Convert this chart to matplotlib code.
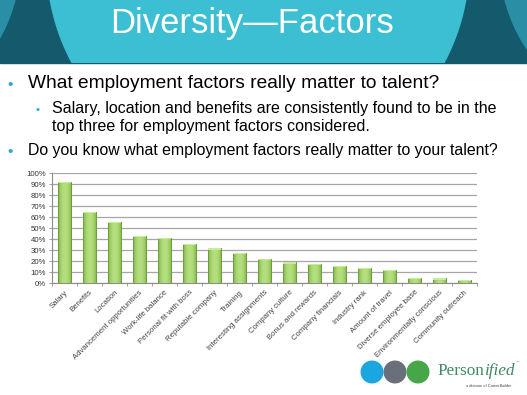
import numpy as np
import matplotlib
matplotlib.use("Agg")
import matplotlib.pyplot as plt
from matplotlib.patches import Rectangle, Circle
from matplotlib.ticker import PercentFormatter
from matplotlib.colors import LinearSegmentedColormap

categories = ["Salary", "Benefits", "Location", "Advancement opportunities",
              "Work-life balance", "Personal fit with boss", "Reputable company",
              "Training", "Interesting assignments", "Company culture",
              "Bonus and rewards", "Company financials", "Industry rank",
              "Amount of travel", "Diverse employee base",
              "Environmentally conscious", "Community outreach"]
values = [0.92, 0.65, 0.56, 0.43, 0.415, 0.357, 0.318, 0.275, 0.225, 0.19,
          0.178, 0.16, 0.139, 0.124, 0.051, 0.045, 0.03]
ytick_vals = np.arange(0, 1.01, 0.1)

title = "Diversity\u2014Factors"
bullet1 = "What employment factors really matter to talent?"
sub1 = "Salary, location and benefits are consistently found to be in the"
sub2 = "top three for employment factors considered."
bullet2 = "Do you know what employment factors really matter to your talent?"

plt.rcParams['font.family'] = ['Liberation Sans', 'DejaVu Sans']

W, H = 527, 395
fig = plt.figure(figsize=(W / 100, H / 100), dpi=100)
renderer = fig.canvas.get_renderer()


def fit(t, target_px):
    bb = t.get_window_extent(renderer)
    t.set_fontsize(t.get_fontsize() * target_px / bb.width)
    return t


bg = fig.add_axes([0, 0, 1, 1])
bg.set_xlim(0, W)
bg.set_ylim(H, 0)
bg.axis("off")

# header banner
hdr_h = 63
bg.add_patch(Rectangle((0, 0), W, hdr_h, color="#145a6c", zorder=0))
for (cx, cy, r, col, z) in [(-140, -40, 160, "#2a8ea4", 0.5),
                            (660, -40, 160, "#2a8ea4", 0.5),
                            (258, -37, 211, "#3cbfd3", 1)]:
    c = Circle((cx, cy), r, color=col, zorder=z)
    bg.add_patch(c)
    c.set_clip_path(Rectangle((0, 0), W, hdr_h, transform=bg.transData))
t = bg.text(110, 24, title, color="white", fontsize=25, ha="left", va="center", zorder=3)
fit(t, 283)

# bullets
bullet_col = "#2aa6d6"
bg.text(7, 85, "\u2022", color=bullet_col, fontsize=11, ha="left", va="center")
fit(bg.text(28, 84, bullet1, color="black", fontsize=13, ha="left", va="center"), 410)
bg.text(36, 110, "\u2022", color=bullet_col, fontsize=8, ha="left", va="center")
s1 = fit(bg.text(52, 109, sub1, color="black", fontsize=11, ha="left", va="center"), 442)
bg.text(52, 127, sub2, color="black", fontsize=s1.get_fontsize(), ha="left", va="center")
bg.text(7, 152, "\u2022", color=bullet_col, fontsize=11, ha="left", va="center")
fit(bg.text(28, 151, bullet2, color="black", fontsize=11, ha="left", va="center"), 470)

# logo
for cx, col in [(372, "#1ba6df"), (395, "#69707a"), (418, "#46a748")]:
    bg.add_patch(Circle((cx, 372), 10.8, color=col, zorder=2))
p1 = bg.text(437, 371, "Person", family=["Liberation Serif"], fontsize=12,
             color="#3f8a62", ha="left", va="center")
fit(p1, 47)
bb = p1.get_window_extent(renderer)
x_end = bb.x1 * W / fig.bbox.width
bg.text(x_end, 371, "ified", family=["Liberation Serif"], style="italic",
        fontsize=p1.get_fontsize(), color="#3f8a62", ha="left", va="center")
bg.text(516, 362, "\u2122", fontsize=2.5, color="#3f8a62", ha="left", va="center")
bg.text(512, 386, "a division of CareerBuilder", fontsize=2.8, color="#444444",
        ha="right", va="center")

# chart
ax = fig.add_axes([51.7 / W, 1 - 283.3 / H, 425 / W, 110 / H])
ax.patch.set_alpha(0)
x = np.arange(len(categories))
bars = ax.bar(x, values, width=0.53, color="#98cf5c", edgecolor="#6c9a3c",
              linewidth=0.6, zorder=3)
grad = np.linspace(0, 1, 64)
prof = 1 - (2 * grad - 1) ** 2
cmap = LinearSegmentedColormap.from_list("g", ["#7cb244", "#b6e080"])
for b in bars:
    x0, y0 = b.get_x(), b.get_y()
    w, h = b.get_width(), b.get_height()
    im = ax.imshow(prof[None, :], extent=(x0, x0 + w, y0, y0 + h), aspect="auto",
                   cmap=cmap, zorder=3.5, vmin=0, vmax=1)
    im.set_clip_path(b)
    ax.add_patch(Rectangle((x0, y0), w, h, fill=False, edgecolor="#6c9a3c",
                           linewidth=0.6, zorder=4))
    ax.add_patch(Rectangle((x0, y0 + h - 0.012), w, 0.012, color="#c8ec98",
                           linewidth=0, zorder=4))

ax.set_xlim(-0.5, len(categories) - 0.5)
ax.set_ylim(0, 1)
ax.set_yticks(ytick_vals)
ax.yaxis.set_major_formatter(PercentFormatter(1.0, decimals=0))
ax.grid(axis="y", color="#a6a6a6", linewidth=0.9, zorder=0)
ax.set_axisbelow(True)
for s in ["top", "right"]:
    ax.spines[s].set_visible(False)
for s in ["left", "bottom"]:
    ax.spines[s].set_color("#8c8c8c")
    ax.spines[s].set_linewidth(0.8)
ax.tick_params(axis="y", labelsize=5.6, labelcolor="#333333", color="#8c8c8c",
               length=2.5, width=0.6, pad=1.5)
ax.set_xticks(x)
ax.set_xticklabels(categories, rotation=45, ha="right", rotation_mode="anchor",
                   fontsize=5.6, color="#444444")
ax.tick_params(axis="x", length=0, pad=4)
ax.set_xticks(np.arange(-0.5, len(categories), 1), minor=True)
ax.tick_params(axis="x", which="minor", length=2.5, color="#8c8c8c", width=0.6)

fig.savefig("out.png", dpi=100)
